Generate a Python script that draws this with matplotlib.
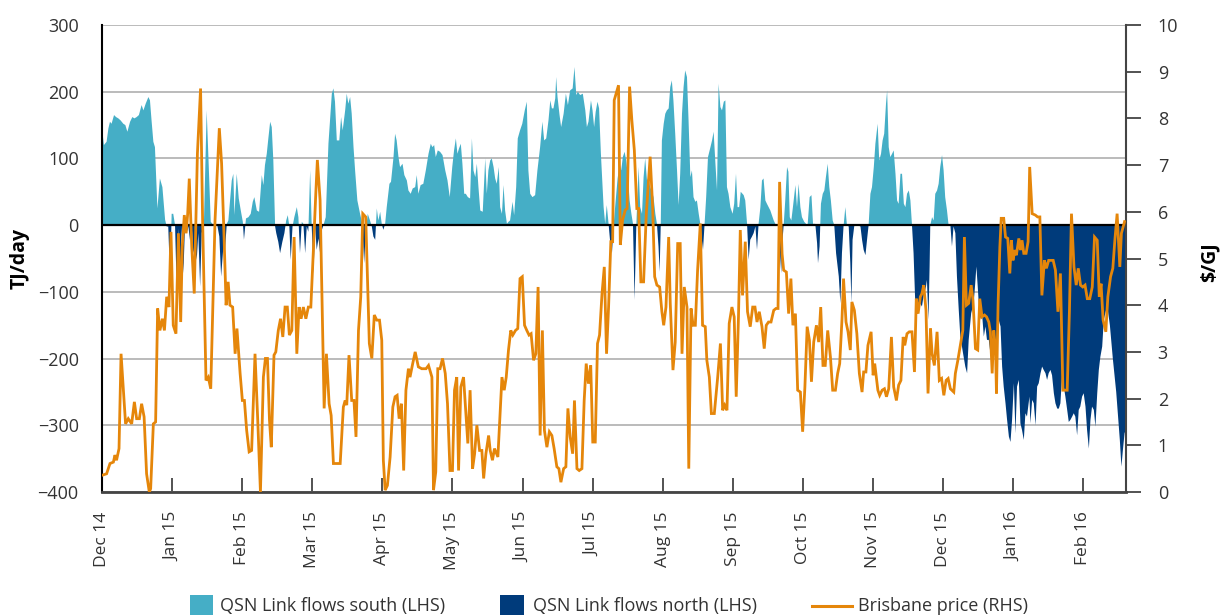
import numpy as np
import matplotlib
matplotlib.use("Agg")
import matplotlib.pyplot as plt
from matplotlib.patches import Rectangle
from matplotlib.lines import Line2D

plt.rcParams['font.family'] = ['Open Sans', 'DejaVu Sans']

# ---------------- data ----------------
month_labels = ["Dec 14", "Jan 15", "Feb 15", "Mar 15", "Apr 15", "May 15", "Jun 15",
                "Jul 15", "Aug 15", "Sep 15", "Oct 15", "Nov 15", "Dec 15", "Jan 16", "Feb 16"]
days_per_tick = 31
n_days = 454

# QSN Link flow (TJ/day): positive = south, negative = north  (day index, value)
flow_days = [0, 0.7, 1.9, 2.7, 3.4, 4.1, 5.2, 6.1, 7.1, 8.1, 9.3, 10.2, 11.1, 12.3, 13.3, 14.2, 15.2, 16.2,
             17.4, 18.2, 19.2, 20.4, 21.1, 21.8, 22.6, 23.3, 24.4, 25.5, 26.6, 27.8, 28.5, 29.2, 30.0, 30.7,
             31.4, 32.2, 32.9, 33.7, 34.4, 35.1, 35.9, 36.6, 37.3, 38.1, 38.8, 39.6, 40.3, 41.0, 41.8, 42.5,
             43.3, 44.0, 45.0, 46.2, 47.1, 48.0, 49.2, 50.9, 51.8, 52.6, 53.6, 54.3, 55.1, 55.8, 56.5, 57.3,
             58.0, 58.5, 59.5, 60.4, 61.3, 62.2, 62.7, 63.6, 64.7, 65.7, 66.6, 67.3, 68.4, 69.4, 70.6, 71.3,
             72.0, 72.8, 73.5, 74.3, 75.0, 75.7, 76.5, 77.0, 77.9, 78.7, 79.7, 80.6, 81.4, 82.1, 82.8, 83.4,
             84.2, 85.0, 86.1, 86.8, 87.5, 88.3, 89.0, 89.8, 90.5, 91.2, 92.0, 92.7, 93.5, 94.2, 94.9, 95.7,
             96.4, 97.2, 97.9, 98.9, 100.1, 100.8, 101.6, 102.3, 103.0, 103.8, 104.9, 105.7, 106.4, 107.5,
             108.2, 108.9, 109.7, 110.4, 111.2, 111.9, 112.9, 114.1, 115.1, 115.9, 116.6, 117.5, 118.5, 119.3,
             120.0, 120.8, 121.5, 122.2, 123.0, 123.7, 124.4, 125.2, 125.9, 127.1, 127.8, 128.9, 129.6, 130.3,
             131.1, 131.8, 132.9, 133.7, 134.8, 135.5, 136.5, 137.4, 138.5, 139.2, 139.9, 140.9, 142.1, 143.2,
             144.4, 145.4, 146.1, 146.9, 147.6, 148.5, 149.5, 150.6, 151.8, 152.8, 153.8, 154.9, 155.7, 156.5,
             157.2, 157.9, 158.7, 159.4, 160.2, 160.9, 161.8, 162.8, 163.6, 164.3, 165.1, 165.8, 166.5, 167.3,
             168.4, 169.5, 170.2, 170.9, 171.7, 172.4, 173.2, 173.9, 174.6, 175.5, 176.1, 176.9, 177.6, 178.3,
             179.1, 179.8, 180.5, 181.6, 182.3, 183.2, 183.9, 184.9, 185.9, 187.0, 187.9, 188.6, 189.4, 190.4,
             191.6, 192.6, 193.8, 194.8, 195.6, 196.5, 197.5, 198.3, 199.0, 199.7, 200.5, 200.9, 201.5, 202.4,
             203.1, 204.2, 205.2, 206.1, 207.1, 208.2, 209.0, 209.8, 210.5, 211.5, 212.7, 213.8, 214.5, 215.2,
             216.3, 217.0, 217.7, 218.4, 219.2, 219.9, 220.7, 221.9, 222.6, 223.3, 224.1, 224.8, 225.6, 226.3,
             227.0, 228.1, 229.0, 229.7, 230.4, 231.2, 231.9, 232.7, 233.4, 234.2, 234.9, 235.6, 236.4, 237.4,
             238.1, 238.9, 239.6, 240.3, 241.1, 241.8, 242.5, 243.3, 244.0, 244.8, 245.5, 246.2, 246.7, 247.2,
             247.7, 248.5, 249.2, 249.9, 250.7, 251.4, 252.1, 252.8, 253.6, 254.4, 255.1, 255.8, 256.6, 257.3,
             258.0, 258.8, 259.5, 260.3, 261.0, 261.7, 262.5, 263.2, 264.0, 264.7, 265.4, 265.9, 266.6, 267.3,
             268.1, 269.2, 269.9, 270.6, 271.4, 272.1, 272.8, 273.6, 274.3, 275.1, 275.8, 276.5, 277.2, 278.0,
             279.0, 279.7, 280.5, 281.2, 281.9, 282.6, 283.9, 284.6, 285.4, 286.1, 286.8, 287.6, 288.3, 289.1,
             289.8, 290.5, 291.3, 292.0, 292.7, 293.5, 294.2, 295.7, 297.2, 298.2, 299.3, 300.0, 300.5, 301.0,
             301.6, 302.3, 303.1, 303.7, 304.3, 305.0, 305.7, 306.8, 307.5, 308.2, 309.0, 309.7, 310.7, 311.5,
             312.2, 313.1, 313.9, 314.6, 315.6, 316.4, 316.8, 317.5, 318.1, 318.9, 319.6, 320.3, 321.1, 321.8,
             322.5, 323.3, 324.0, 324.8, 326.0, 326.7, 327.4, 328.1, 328.9, 329.6, 330.4, 331.1, 331.6, 332.1,
             332.9, 334.4, 335.6, 336.3, 337.0, 337.8, 338.5, 339.2, 340.0, 340.7, 341.5, 342.2, 343.2, 343.9,
             344.7, 345.4, 346.1, 346.9, 347.4, 348.1, 348.8, 349.6, 350.3, 351.1, 351.8, 352.5, 353.3, 354.0,
             354.8, 355.5, 356.2, 357.0, 357.7, 358.4, 359.1, 359.8, 360.6, 361.3, 362.0, 362.8, 363.5, 364.6,
             365.0, 365.7, 366.2, 366.5, 367.3, 368.0, 368.7, 369.5, 370.2, 370.9, 371.7, 372.4, 373.1, 373.9,
             374.6, 375.4, 376.1, 376.8, 377.6, 378.3, 379.1, 379.8, 381.0, 382.0, 382.8, 383.5, 384.6, 385.7,
             386.4, 386.9, 387.5, 388.4, 389.4, 390.2, 390.9, 391.6, 392.4, 393.1, 393.9, 394.6, 395.3, 396.1,
             396.8, 397.6, 398.3, 399.0, 399.8, 400.5, 401.3, 402.0, 402.7, 403.5, 404.2, 404.9, 405.7, 406.4,
             407.1, 407.9, 408.6, 409.3, 410.4, 410.8, 411.6, 412.3, 413.1, 413.8, 414.5, 415.3, 416.0, 416.7,
             417.5, 418.2, 418.9, 419.7, 420.4, 421.2, 421.9, 422.7, 423.4, 424.1, 424.9, 425.6, 426.3, 427.1,
             427.8, 428.5, 429.3, 430.0, 430.7, 431.5, 432.2, 432.9, 433.7, 434.4, 435.2, 435.9, 436.7, 437.4,
             438.1, 438.9, 439.6, 440.4, 441.1, 441.8, 442.6, 443.3, 444.8, 446.0, 447.3, 448.8, 450.4, 451.1,
             451.9, 452.5, 453.0]
flow_vals = [142, 120, 125, 145, 155, 152, 165, 162, 160, 157, 152, 150, 140, 155, 162, 160, 162, 165,
             180, 172, 182, 192, 187, 157, 125, 117, 25, 70, 57, 8, -2, -2, -82, 17,
             17, 0, -92, -5, -112, -2, -72, -2, -12, -2, -22, -2, -42, -32, -52, -12,
             -92, -12, 5, 172, 90, 5, 0, 0, -17, -77, -32, -37, 2, 7, 35, 67,
             77, 15, 77, 40, 22, 5, -22, 10, 12, 17, 35, 42, 22, 20, 75, 60,
             90, 107, 130, 155, 147, 97, -2, -12, -25, -42, -25, -12, 7, 15, -2, -52,
             -2, 12, 27, 12, -42, 5, 2, -42, -2, -10, 82, -2, -72, -2, -37, -20,
             -42, -7, 0, 12, 122, 157, 197, 205, 185, 127, 127, 162, 142, 172,
             197, 182, 192, 167, 117, 82, 37, 17, 2, -57, -12, 17, 7, -2,
             -17, -22, 25, 7, 20, 2, -7, 2, 27, 62, 65, 102, 137, 127,
             102, 87, 92, 75, 67, 52, 47, 55, 57, 75, 47, 60, 62, 82,
             107, 122, 117, 120, 102, 112, 110, 105, 82, 67, 42, 87, 112, 130,
             107, 115, 122, 92, 47, 47, 42, 40, 130, 82, 72, 92, 57, 22,
             20, 100, 47, 82, 97, 100, 87, 70, 62, 87, 27, 17, 60, 22,
             2, 5, 7, 35, 15, 57, 130, 142, 152, 172, 185, 82, 47, 42,
             45, 82, 117, 155, 127, 130, 157, 187, 175, 175, 190, 222, 192, 165,
             147, 167, 197, 180, 202, 205, 237, 195, 200, 195, 197, 172, 147, 155,
             187, 172, 147, 170, 185, 175, 107, 27, 2, 30, 2, -25, -42, -2,
             27, 70, 92, 82, 102, 110, 97, 72, 37, 17, 2, -112, 2, 87,
             27, 17, 72, 100, 67, 72, 57, 50, 42, 17, 2, -32, -70, 2,
             127, 152, 167, 172, 175, 207, 217, 187, 137, 82, 30, 77, 167, 207,
             232, 222, 157, 72, 82, 42, 35, 37, 17, 2, -22, -37, 2, 42,
             102, 117, 127, 140, 92, 52, 212, 177, 172, 185, 187, 57, 47, 27,
             17, 32, 77, 27, 27, 50, 45, 37, 2, -52, -22, -17, -12, -2,
             -37, 2, 27, 67, 70, 37, 32, 22, 7, 0, 0, -42, -72, -27,
             0, 37, 87, 80, 12, 7, 27, 60, 27, 62, 27, 12, 5, 2,
             0, 42, 45, 2, 2, -27, -57, -32, 32, 47, 52, 72, 92, 57,
             37, 7, 0, -42, -77, -117, -42, -2, 27, 0, -2, -57, -117, -22,
             0, 0, -2, -22, -37, -45, -22, 0, 47, 57, 87, 122, 152, 97,
             107, 127, 137, 182, 202, 117, 102, 107, 112, 77, 37, 32, 77, 77,
             32, 27, 47, 52, 37, 0, -42, -112, -132, -132, -117, -122, -107, -92,
             -82, -142, -62, 0, 12, 7, 47, 52, 62, 87, 105, 82, 42, 22,
             0, 0, -32, -2, -12, -77, -127, -167, -192, -212, -222, -172, -132, -117,
             -87, -62, -92, -142, -132, -167, -152, -172, -172, -192, -182, -162, -187, -172,
             -142, -152, -212, -242, -267, -292, -317, -325, -292, -237, -312, -242, -232, -297,
             -307, -322, -282, -287, -257, -297, -262, -267, -300, -242, -237, -222, -212, -217,
             -222, -232, -222, -217, -225, -252, -267, -275, -275, -267, -222, -242, -257, -277,
             -295, -292, -287, -282, -287, -315, -277, -272, -257, -252, -272, -307, -335, -292,
             -272, -277, -302, -252, -217, -197, -182, -142, -120, -150, -200, -250, -322, -362,
             -332, -312, -307]

# Brisbane price ($/GJ)  (day index, value)
price_days = [0, 1.9, 3.4, 4.9, 5.6, 6.3, 7.4, 8.3, 10.3, 11.5, 13.0, 14.2, 15.2, 16.4, 17.4, 18.5, 19.6,
              20.8, 21.4, 22.6, 23.6, 24.5, 25.5, 26.6, 27.5, 28.5, 29.5, 30.4, 31.4, 32.6, 33.7, 34.7,
              35.4, 36.3, 37.1, 37.8, 38.5, 39.6, 40.7, 42.1, 43.5, 44.4, 45.9, 46.9, 48.0, 49.9, 51.8,
              52.8, 53.9, 54.8, 55.7, 56.5, 57.7, 58.8, 59.6, 61.0, 62.0, 62.9, 63.9, 65.0, 66.1, 67.6,
              68.8, 70.0, 71.3, 72.2, 73.1, 74.0, 74.8, 76.0, 76.8, 77.9, 78.9, 79.9, 80.9, 81.9, 82.8,
              83.9, 84.9, 86.1, 87.1, 88.0, 89.0, 90.1, 91.2, 92.3, 93.5, 94.5, 95.2, 96.4, 98.2, 99.2,
              100.4, 101.3, 102.3, 105.3, 106.7, 107.5, 108.2, 109.2, 110.4, 111.4, 112.3, 113.4, 114.4,
              115.3, 116.6, 118.2, 119.3, 120.4, 121.5, 122.7, 123.7, 124.4, 125.2, 126.2, 127.4, 128.6,
              129.6, 130.5, 131.4, 132.4, 133.4, 134.4, 135.5, 136.2, 137.4, 138.5, 139.9, 141.4, 143.3,
              144.4, 145.9, 146.6, 147.6, 148.5, 149.5, 150.6, 151.8, 152.8, 153.9, 155.0, 155.9, 156.9,
              157.7, 158.7, 159.9, 161.8, 162.8, 163.9, 164.8, 165.8, 167.0, 168.0, 168.8, 169.8, 171.0,
              171.7, 172.7, 173.6, 175.1, 176.9, 177.9, 178.8, 179.8, 180.8, 181.7, 182.9, 183.9, 184.9,
              185.9, 186.9, 187.9, 188.9, 189.8, 190.9, 191.9, 192.9, 193.8, 194.8, 195.7, 196.8, 197.9,
              199.0, 200.0, 201.2, 202.1, 203.0, 204.2, 205.2, 206.1, 207.1, 208.2, 209.0, 210.1, 211.1,
              212.3, 213.3, 214.2, 215.2, 216.2, 217.1, 218.2, 219.2, 220.1, 221.2, 222.2, 223.2, 224.1,
              225.1, 225.9, 226.6, 228.5, 229.3, 230.3, 231.5, 232.3, 233.4, 234.4, 235.5, 236.6, 237.4,
              238.4, 239.6, 240.8, 242.5, 243.6, 244.5, 245.5, 246.7, 247.7, 248.5, 249.5, 250.7, 251.4,
              252.6, 253.6, 254.7, 255.8, 256.6, 257.6, 258.8, 259.6, 260.6, 261.5, 262.5, 263.5, 264.7,
              265.7, 266.9, 267.6, 268.7, 269.6, 270.9, 272.4, 273.6, 274.6, 275.5, 276.5, 277.5, 278.7,
              279.7, 280.6, 281.6, 282.4, 283.4, 284.6, 285.6, 286.8, 287.9, 288.9, 289.8, 290.8, 292.0,
              293.0, 293.9, 294.9, 296.0, 297.2, 298.2, 299.1, 299.8, 300.9, 301.6, 302.8, 303.8, 304.8,
              305.7, 306.8, 307.8, 309.0, 310.0, 311.0, 312.0, 313.0, 313.9, 314.9, 316.1, 317.1, 318.0,
              319.0, 320.0, 321.1, 322.3, 323.3, 324.5, 325.5, 326.4, 327.4, 328.1, 329.2, 330.1, 331.1,
              331.8, 332.9, 334.0, 335.1, 336.3, 337.0, 338.0, 338.9, 340.3, 341.2, 341.9, 342.5, 343.3,
              344.1, 345.2, 346.2, 347.1, 348.1, 349.3, 350.3, 351.5, 352.5, 353.5, 354.5, 355.2, 356.2,
              357.2, 358.4, 359.5, 360.3, 361.1, 362.1, 362.8, 363.6, 364.6, 365.5, 366.6, 367.3, 368.3,
              369.5, 370.5, 371.5, 372.5, 373.5, 374.4, 375.4, 376.9, 377.6, 378.7, 379.8, 380.9, 381.6,
              382.5, 383.5, 384.6, 385.4, 386.5, 387.5, 388.4, 389.4, 390.5, 391.4, 392.4, 393.1, 393.9,
              394.6, 395.4, 395.8, 396.5, 397.3, 397.9, 399.0, 399.8, 400.8, 401.7, 402.4, 403.1, 403.9,
              404.6, 405.7, 406.4, 407.1, 407.9, 408.9, 409.8, 410.5, 411.6, 413.0, 414.0, 415.0, 415.9,
              417.0, 417.9, 418.9, 420.9, 421.9, 423.0, 424.1, 425.2, 427.1, 428.1, 429.0, 430.1, 431.1,
              432.0, 433.0, 434.0, 435.0, 436.0, 437.1, 438.2, 439.2, 440.4, 441.3, 442.1, 443.0, 444.2,
              445.1, 446.3, 447.3, 448.2, 449.2, 450.4, 451.1, 452.5]
price_vals = [0.36, 0.39, 0.61, 0.64, 0.79, 0.68, 0.93, 2.96, 1.46, 1.57, 1.46, 1.93, 1.57, 1.57, 1.89, 1.61, 0.39,
              0.0, 0.07, 1.46, 1.5, 3.93, 3.46, 3.71, 3.46, 4.18, 3.96, 5.57, 3.57, 3.39, 5.54, 3.64,
              5.25, 5.93, 5.54, 5.96, 6.71, 5.25, 4.25, 7.25, 8.64, 5.82, 2.39, 2.46, 2.21, 5.82, 7.79,
              7.04, 5.46, 4.0, 4.5, 4.0, 3.96, 2.96, 3.5, 2.54, 1.96, 1.96, 1.32, 0.86, 0.89, 2.96,
              1.54, 0.0, 2.46, 2.86, 2.86, 1.54, 0.96, 2.93, 3.0, 3.46, 3.71, 3.32, 3.96, 3.96, 3.36,
              3.46, 5.46, 2.96, 3.96, 3.71, 3.96, 3.71, 3.96, 3.96, 5.25, 6.39, 7.11, 6.25, 1.79, 2.96,
              1.89, 1.64, 0.61, 0.61, 1.82, 1.96, 1.86, 2.93, 1.96, 1.96, 1.18, 3.46, 4.18,
              5.96, 5.89, 3.18, 2.86, 3.79, 3.68, 3.68, 3.25, 0.68, 0.04, 0.14, 0.75, 1.82,
              2.04, 2.07, 1.57, 1.89, 0.46, 2.18, 2.64, 2.46, 2.75, 3.0, 2.68, 2.64, 2.64,
              2.71, 2.46, 0.04, 0.43, 2.64, 2.64, 2.86, 2.54, 1.89, 0.46, 0.46, 2.18, 2.46,
              0.46, 2.25, 2.46, 1.04, 2.18, 0.5, 0.82, 1.43, 0.89, 0.89, 0.29, 0.82, 1.21,
              0.89, 0.68, 0.93, 0.75, 2.46, 2.18, 2.46, 3.04, 3.46, 3.36, 3.46, 3.5, 4.57,
              4.61, 3.57, 3.46, 3.36, 3.39, 2.82, 2.96, 4.39, 1.21, 3.46, 1.32, 0.96, 1.29,
              1.21, 0.93, 0.54, 0.5, 0.21, 0.5, 0.54, 1.79, 1.18, 0.82, 1.96, 0.5, 0.46,
              0.5, 1.96, 2.75, 2.32, 2.71, 1.07, 1.07, 3.18, 3.36, 4.25, 4.82, 2.96, 3.96,
              5.36, 5.36, 8.39, 8.71, 5.29, 5.82, 6.04, 6.07, 8.68, 7.96, 7.32, 6.07, 6.07,
              4.5, 4.5, 5.96, 7.18, 6.11, 4.61, 4.43, 4.39, 3.86, 3.57, 3.96, 5.46, 4.04,
              2.61, 3.21, 5.32, 5.32, 2.96, 4.39, 3.96, 0.5, 3.93, 3.57, 3.57, 4.75, 5.75,
              3.57, 3.54, 2.82, 2.46, 1.68, 1.68, 2.46, 3.18, 1.75, 1.86, 1.75, 3.61, 3.96,
              3.75, 2.04, 3.75, 5.61, 4.21, 5.36, 3.86, 3.54, 3.96, 3.96, 3.64, 3.86, 3.54,
              3.07, 3.57, 3.64, 3.64, 3.89, 3.93, 3.93, 6.64, 5.1, 4.75, 4.71, 3.82, 4.57,
              3.57, 3.82, 2.18, 2.14, 1.29, 2.25, 3.54, 3.25, 2.36, 3.21, 3.57, 3.21, 3.96,
              2.71, 2.71, 3.46, 2.89, 2.18, 2.18, 2.54, 2.75, 3.68, 4.57, 3.64, 3.43, 3.04,
              4.07, 3.89, 3.39, 2.54, 2.14, 2.57, 2.57, 3.14, 3.43, 2.5, 2.75, 2.5, 2.18,
              2.07, 2.18, 2.21, 2.04, 2.21, 3.32, 2.25, 1.96, 2.29, 2.39, 3.32, 3.14, 3.39,
              3.43, 3.43, 2.57, 4.14, 3.82, 4.18, 4.25, 4.43, 3.89, 2.11, 3.5, 2.96, 2.71,
              3.43, 2.39, 2.43, 2.07, 2.39, 2.43, 2.21, 2.14, 2.54, 2.82, 3.14, 3.46, 5.46,
              4.0, 4.04, 4.43, 4.11, 3.07, 3.04, 4.14, 3.75, 3.79, 3.75, 3.64, 3.43, 2.54,
              3.46, 3.04, 2.11, 4.0, 5.25, 5.86, 5.86, 5.46, 5.43, 4.68, 5.39, 4.96, 5.18,
              5.07, 5.43, 5.18, 5.39, 5.11, 5.11, 5.36, 6.96, 5.96, 5.93, 5.89, 5.89, 4.21,
              4.96, 4.79, 4.96, 4.96, 4.75, 3.86, 4.68, 2.18, 2.18, 3.89, 5.96, 4.82, 4.43,
              4.79, 4.43, 4.39, 4.43, 4.14, 4.14, 4.39, 5.46, 5.39, 4.18, 4.46, 3.68, 3.43,
              4.18, 4.61, 4.79, 5.39, 5.96, 4.82, 5.54, 5.79]

# ---------------- styling ----------------
c_south = "#45AEC6"
c_north = "#003B7B"
c_price = "#E5860A"
c_text = "#333333"
c_grid = "#B5B5B5"

W, H = 1220, 615
fig = plt.figure(figsize=(W / 100, H / 100), dpi=100)
ax = fig.add_axes([102.3 / W, 1 - 492 / H, (1125.7 - 102.3) / W, (492 - 25) / H])

fx = np.array(flow_days, dtype=float)
fy = np.array(flow_vals, dtype=float)
ax.fill_between(fx, fy, 0, where=fy >= 0, interpolate=True, color=c_south, linewidth=0, zorder=2)
ax.fill_between(fx, fy, 0, where=fy <= 0, interpolate=True, color=c_north, linewidth=0, zorder=2)
ax.axhline(0, color="black", lw=1.6, zorder=3)

ax.set_xlim(0, n_days - 1)
ax.set_ylim(-400, 300)
ax.set_yticks(np.arange(-400, 301, 100))
ax.yaxis.grid(True, color=c_grid, lw=1.3, zorder=0)
ax.set_axisbelow(True)
ax.set_xticks(np.arange(len(month_labels)) * days_per_tick)
ax.set_xticklabels(month_labels, rotation=90, fontsize=12.5, color=c_text)
ax.tick_params(axis="x", direction="in", length=10, width=1.3, color="#444444", pad=14)
ax.tick_params(axis="y", length=0, labelsize=13, labelcolor=c_text, pad=17)
for s in ["top", "right"]:
    ax.spines[s].set_visible(False)
ax.spines["left"].set_color("black")
ax.spines["left"].set_linewidth(1.5)
ax.spines["bottom"].set_color("#444444")
ax.spines["bottom"].set_linewidth(2)

ax2 = ax.twinx()
ax2.plot(price_days, price_vals, color=c_price, lw=2.0, zorder=4, solid_joinstyle="miter")
ax2.set_ylim(0, 10)
ax2.set_yticks(np.arange(0, 11, 1))
ax2.tick_params(axis="y", direction="out", length=11, width=1.3, color="#444444",
                labelsize=13, labelcolor=c_text, pad=12)
for s in ["top", "left", "bottom"]:
    ax2.spines[s].set_visible(False)
ax2.spines["right"].set_color("#444444")
ax2.spines["right"].set_linewidth(1.5)

fig.text(20 / W, 1 - 258 / H, "TJ/day", rotation=90, ha="center", va="center",
         fontsize=14, fontweight="bold", color="black")
fig.text(1210 / W, 1 - 262 / H, "$/GJ", rotation=90, ha="center", va="center",
         fontsize=14, fontweight="bold", color="black")

# legend (drawn manually)
ly = 1 - 606 / H
lfs = 13
fig.add_artist(Rectangle((190 / W, 1 - 616 / H), 23 / W, 21 / H, transform=fig.transFigure,
                         color=c_south, lw=0))
fig.text(220 / W, ly, "QSN Link flows south (LHS)", ha="left", va="center", fontsize=lfs, color=c_text)
fig.add_artist(Rectangle((500 / W, 1 - 616 / H), 24 / W, 21 / H, transform=fig.transFigure,
                         color=c_north, lw=0))
fig.text(533 / W, ly, "QSN Link flows north (LHS)", ha="left", va="center", fontsize=lfs, color=c_text)
fig.add_artist(Line2D([812 / W, 852 / W], [ly, ly], transform=fig.transFigure, color=c_price, lw=2.2))
fig.text(858 / W, ly, "Brisbane price (RHS)", ha="left", va="center", fontsize=lfs, color=c_text)

fig.savefig("out.png", dpi=100)
